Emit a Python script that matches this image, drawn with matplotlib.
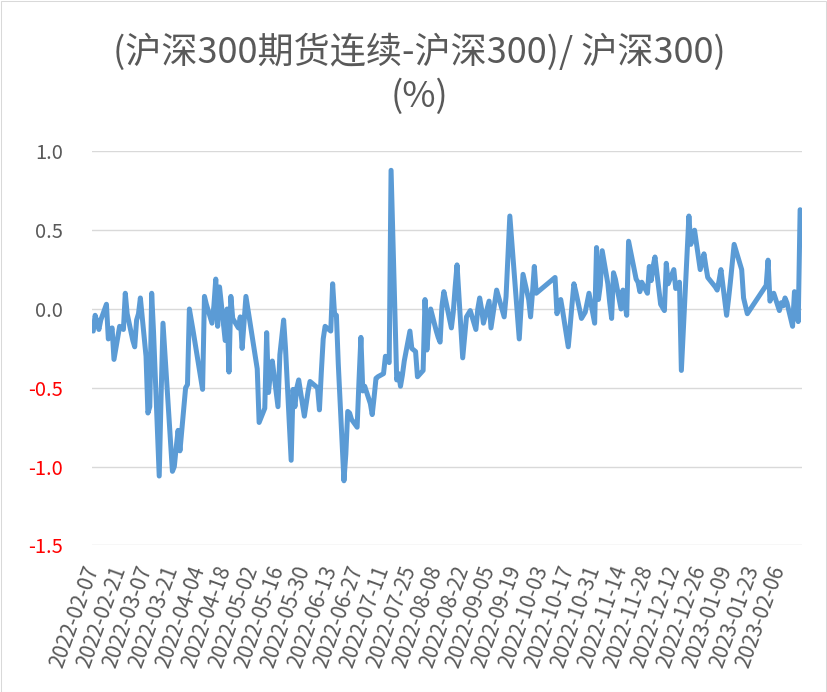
import numpy as np
import pandas as pd
import matplotlib
matplotlib.use("Agg")
import matplotlib.pyplot as plt
from matplotlib.patches import Rectangle

plt.rcParams['font.family'] = ['Noto Sans CJK SC', 'DejaVu Sans']

# exchange holidays (weekdays without trading)
holidays = ['2022-04-04', '2022-04-05', '2022-05-02', '2022-05-03', '2022-05-04',
            '2022-06-03', '2022-09-12', '2022-10-03', '2022-10-04', '2022-10-05',
            '2022-10-06', '2022-10-07', '2023-01-02', '2023-01-23', '2023-01-24',
            '2023-01-25', '2023-01-26', '2023-01-27']

# basis (%) per trading day, month by month
feb22 = [-0.14, -0.04, -0.08, -0.13, -0.07, 0.03, -0.19, -0.15, -0.12, -0.32,
         -0.11, -0.12, -0.13, 0.10, -0.03, -0.20]
mar22 = [-0.24, -0.07, -0.03, 0.07, -0.30, -0.66, -0.62, 0.10, -0.15, -1.06,
         -0.55, -0.09, -0.28, -0.47, -1.03, -1.00, -0.88, -0.77, -0.90, -0.50,
         -0.48, 0.00, -0.07]
apr22 = [-0.14, -0.51, 0.08, 0.03, -0.09, 0.02, 0.19, -0.11, 0.14, -0.20,
         0.00, -0.40, 0.08, -0.06, -0.12, -0.05, -0.25, -0.08, 0.08]
may22 = [-0.38, -0.72, -0.63, -0.15, -0.53, -0.40, -0.33, -0.62, -0.29, -0.18,
         -0.07, -0.25, -0.96, -0.51, -0.62, -0.50, -0.45, -0.68, -0.60]
jun22 = [-0.52, -0.46, -0.50, -0.64, -0.40, -0.19, -0.11, -0.14, 0.16, -0.03,
         -0.04, -0.35, -1.09, -0.92, -0.65, -0.66, -0.70, -0.75, -0.45, -0.18,
         -0.52]
jul22 = [-0.49, -0.60, -0.67, -0.56, -0.44, -0.43, -0.41, -0.30, -0.32, -0.34,
         0.88, -0.45, -0.41, -0.49, -0.42, -0.33, -0.14, -0.25, -0.26, -0.27,
         -0.43]
aug22 = [-0.39, 0.06, -0.26, -0.10, 0.00, -0.14, -0.18, -0.21, 0.02, 0.11,
         -0.06, -0.12, -0.02, 0.14, 0.28, -0.31, -0.18, -0.05, -0.03, -0.01,
         -0.13, 0.00, 0.07]
sep22 = [0.00, -0.09, 0.05, -0.12, -0.04, 0.04, 0.12, -0.05, 0.08, 0.33,
         0.59, 0.12, -0.03, -0.19, 0.02, 0.22, 0.06, -0.05, 0.10, 0.27, 0.10]
oct22 = [0.20, -0.03, 0.02, 0.06, -0.01, -0.24, -0.11, 0.03, 0.16, 0.11,
         -0.06, -0.04, -0.02, 0.04, 0.10, -0.09]
nov22 = [0.39, 0.06, 0.15, 0.37, 0.16, 0.04, -0.06, 0.23, 0.19, 0.00,
         0.12, 0.04, -0.04, 0.43, 0.25, 0.19, 0.17, 0.11, 0.17, 0.10,
         0.27, 0.18]
dec22 = [0.27, 0.33, 0.03, 0.01, -0.01, 0.29, 0.16, 0.25, 0.13, 0.14,
         0.17, -0.39, 0.34, 0.59, 0.41, 0.46, 0.50, 0.25, 0.30, 0.35,
         0.27, 0.20]
jan23 = [0.14, 0.12, 0.18, 0.25, -0.04, 0.06, 0.17, 0.29, 0.41, 0.29,
         0.25, 0.07, 0.02, -0.03, 0.15, 0.31]
feb23 = [0.05, 0.08, 0.10, -0.01, 0.04, 0.02, 0.07, 0.04, -0.11, 0.11,
         0.10, -0.08, 0.63]

yticks = [1.0, 0.5, 0.0, -0.5, -1.0, -1.5]
title1 = "(沪深300期货连续-沪深300)/ 沪深300)"
title2 = "(%)"

dates = pd.bdate_range('2022-02-07', '2023-02-17', freq='C', holidays=holidays)
pct = feb22 + mar22 + apr22 + may22 + jun22 + jul22 + aug22 + sep22 + oct22 + nov22 + dec22 + jan23 + feb23
assert len(dates) == len(pct), (len(dates), len(pct))

tick_dates = pd.date_range('2022-02-07', '2023-02-06', freq='14D')

fig = plt.figure(figsize=(8.27, 6.92), dpi=100)
ax = fig.add_axes([92.3 / 827, 1 - 545.4 / 692, (802 - 92.3) / 827, (545.4 - 151.4) / 692])

ax.plot(dates, pct, color="#5B9BD5", lw=3.6, solid_joinstyle='round', solid_capstyle='round', zorder=3)

ax.set_ylim(-1.5, 1.0)
ax.set_xlim(pd.Timestamp('2022-02-06 12:00'), pd.Timestamp('2023-02-18'))
ax.set_yticks(yticks)
ax.set_yticklabels([f"{v:.1f}" for v in yticks])
for lab, v in zip(ax.get_yticklabels(), yticks):
    lab.set_color('#FF0000' if v < 0 else '#595959')
ax.grid(axis='y', color='#D9D9D9', lw=1.0)
ax.set_axisbelow(True)

ax.set_xticks(tick_dates)
ax.set_xticklabels([d.strftime('%Y-%m-%d') for d in tick_dates], rotation=70,
                   rotation_mode='anchor', ha='right', va='center', color='#595959')
ax.tick_params(axis='x', length=0, pad=15, labelsize=15)
ax.tick_params(axis='y', length=0, pad=21, labelsize=14.5)
for s in ax.spines.values():
    s.set_visible(False)

fig.text(419 / 827, 1 - 52 / 692, title1, ha='center', va='center', fontsize=26, color='#595959')
fig.text(419 / 827, 1 - 97 / 692, title2, ha='center', va='center', fontsize=26, color='#595959')

fig.patches.append(Rectangle((0.5 / 827, 0.5 / 692), 1 - 1.5 / 827, 1 - 1.5 / 692,
                             transform=fig.transFigure, fill=False, edgecolor='#D9D9D9', lw=0.75))

plt.savefig("out.png", dpi=100)
